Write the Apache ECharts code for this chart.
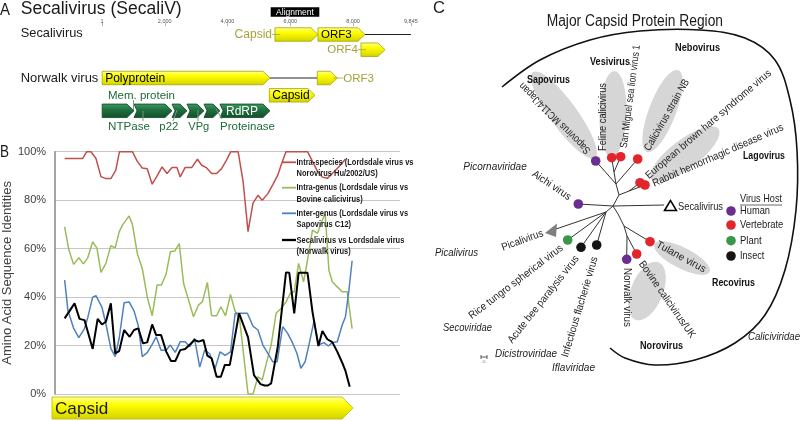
<!DOCTYPE html>
<html><head><meta charset="utf-8">
<script src="https://cdn.jsdelivr.net/npm/echarts@6/dist/echarts.min.js"></script>
<style>html,body{margin:0;padding:0;background:#fff}#c{width:800px;height:421px}</style>
</head><body><div id="c"></div>
<script>
// ===== Panel B data: amino-acid identity (%) along the capsid alignment (x = alignment position) =====
const intraSpecies = [[9.7,97.2],[28,97.2],[32,100],[36.3,100],[41.3,97.2],[46.3,89.7],[51.3,88.9],[56.3,88.9],[61.3,92.4],[65,100],[78,100],[83,96],[88,93.3],[93,93],[98,86.6],[103,90],[108,93.7],[113,91],[118,93.5],[123,93.5],[126.3,89.6],[131.3,93.5],[138,93.5],[143.7,96.9],[148,94.4],[153,93.3],[158,91],[163,91],[168,93],[173,96.5],[177.3,100],[184.7,100],[189.7,87.8],[194.7,67],[199.7,78.8],[204.7,82],[209,80],[214.7,82.7],[219.7,86.4],[224.7,90.3],[228,94.4],[233,100],[254.7,100],[259.7,96],[264.7,92],[269.7,89.5],[274.7,89],[279.7,91],[287.3,94.2],[293,97]];
const intraGenus = [[9.7,69],[14,59.4],[18.7,53.5],[24,56.2],[28.7,53.7],[33,56.2],[38,62.8],[42.3,60.2],[46.3,50.2],[51.3,53.9],[56.3,61.2],[60.7,60.3],[64.7,66.9],[68,69.7],[74.7,73.5],[78,70.1],[83,58],[88,51.8],[93,40.1],[98,32.3],[103,45],[107.3,45],[112,49.4],[116.3,58.7],[120.7,59],[125.3,62.1],[129.7,45.6],[134.7,38.8],[139.7,31.9],[144.7,36.7],[148.7,38.1],[153.7,46],[158,32.3],[163,32.3],[167.3,36],[172,32.3],[177,41.1],[181.3,34.6],[186.3,30.5],[194.7,0],[199.7,0],[204.7,7.1],[209,5.8],[214,14],[218,20.2],[223,33.3],[228,35.3],[233,38],[237.3,41.5],[241.3,42.2],[245.7,53.9],[250.7,46.3],[254.7,55.2],[259.7,67.6],[264.7,66.3],[269.7,71.8],[272.5,74.5],[276.3,51],[279.7,46.3],[284.7,44.2],[289.7,42.2],[294.7,42.2],[299.7,27]];
const interGenus = [[9.7,47],[13,34.5],[18.7,27.2],[24,23.3],[29.7,27],[33,31.5],[38,40],[41.3,40.6],[47.3,35.8],[51.3,29],[56.3,18.8],[60.7,15.4],[64.7,23],[69.7,37.7],[74.7,38],[79.7,34.3],[84,28.2],[88,15.4],[93,17.1],[98,20.5],[102,23.6],[107,18.1],[112,18.1],[116.3,20.2],[121.3,17.2],[126.3,21.6],[131.3,21.6],[136,19.5],[140.7,23],[146,11.1],[151,18.2],[156,16.6],[161.3,10.3],[166.5,17.4],[171.5,15.9],[177,17.4],[181.7,33.3],[186.3,33.3],[194,33.3],[199.7,28],[204.7,26.4],[209.7,20.2],[214.7,16.8],[219.7,13.3],[224,13.3],[229.7,27.8],[234.7,25],[239,21.6],[244,16.8],[248,10.6],[252.3,13.3],[256.3,20.6],[261.3,30.2],[265.7,20.2],[271.3,21.2],[275.7,19.8],[279.7,21.2],[284.7,21.6],[289.7,28.5],[293,31.9],[296.3,42.2],[299.7,55]];
const secaliVsLordsdale = [[9.7,31.2],[19.7,37.4],[24.7,31],[29.7,30.5],[38,18.6],[43,31],[47.3,28.7],[51.3,29.8],[56.3,37.4],[60.7,16.8],[64.7,17.7],[69.7,26.4],[75.3,23.6],[79.7,26.4],[84,27.1],[88.7,20.9],[93,21.3],[98,28.7],[102,24.3],[107,24.3],[112.3,17.4],[117,13.6],[121.3,13.6],[126.3,18.1],[131.3,18.6],[136.3,20.5],[140.7,22.3],[144.7,21.6],[149.7,22.3],[153.7,15.8],[158,14.7],[163,7.1],[167.3,7.1],[171.3,12],[176.3,12],[185.7,33.3],[194.7,23.4],[200.7,7.8],[207.3,4.1],[211.3,3.5],[214.7,3.5],[218,4.4],[224.7,19.5],[233,50.2],[236.3,50],[241.3,33.3],[245.7,50],[254.7,50],[259.7,33.9],[265.7,19.8],[269.7,26],[274.7,22.6],[279.7,21.4],[284.7,17.5],[289.7,12.9],[293,9.5],[297.3,3]];
const seriesLegend = [
  ['Intra-species (Lordsdale virus vs', 'Norovirus Hu/2002/US)'],
  ['Intra-genus (Lordsdale virus vs', 'Bovine calicivirus)'],
  ['Inter-genus (Lordsdale virus vs', 'Sapovirus C12)'],
  ['Secalivirus vs Lordsdale virus', '(Norwalk virus)']
];
const yAxisTitle = 'Amino Acid Sequence Identities';

// ===== Panel A data: genome maps (nucleotide positions) =====
const rulerTicks = [1, 2000, 4000, 6000, 8000, 9845];
const geneNames = ['Capsid','ORF3','ORF4','Polyprotein','ORF3','Capsid','p48','NTPase','p22','VPg','Proteinase','RdRP'];
const geneStart = [5513, 6883, 8254, 5, 6862, 5333, 5, 1020, 2231, 2709, 3250, 3760];
const geneEnd   = [6883, 8381, 9018, 5354, 7500, 6788, 1020, 2231, 2709, 3250, 3760, 5354];
const geneTrack = [0, 0, 1, 2, 2, 3, 4, 4, 4, 4, 4, 4];
const spacerStart = [8381, 5354];
const spacerEnd = [9845, 6862];
const spacerTrack = [0, 2];
const alignmentRegion = [5377, 6926];

// ===== styles / layout =====
const FONT = "'Liberation Sans', Arial, sans-serif";
const COLORS = ['#C0504D', '#9BBB59', '#4F81BD', '#000000'];
const WIDTHS = [1.5, 1.5, 1.5, 2];
const TRACK_Y = [8.5, 23.7, 52, 69.3, 84.8];   // track centre rows of the genome map
const ALIGN_Y = -14;
const GENE_KIND = ['y','y','y','y','y','y','g','g','g','g','g','g'];
const GENE_NOTCH = [0,0,0,0,0,0,0,3,3,3,3,3];
const OLIVE = '#A6A23A';
const GENE_LABEL = [
  {pos:'left', color:OLIVE, size:12}, {pos:'inside', color:'#000', size:11.5}, {pos:'left', color:OLIVE, size:11.5},
  {pos:'inside', color:'#000', size:12}, {pos:'right', color:OLIVE, size:11.5}, {pos:'inside', color:'#000', size:12},
  null, null, null, null, null, {pos:'inside', color:'#fff', size:12}
];
const YELLOW_FILL = {type:'linear',x:0,y:0,x2:0,y2:1,colorStops:[{offset:0,color:'#FFFF9A'},{offset:0.35,color:'#FFFF00'},{offset:1,color:'#D2D200'}]};
const GREEN_FILL = {type:'linear',x:0,y:0,x2:0,y2:1,colorStops:[{offset:0,color:'#3E9A62'},{offset:0.45,color:'#1F6E3E'},{offset:1,color:'#12502A'}]};
const DKGREEN = '#1E6B3A';

const mctx = document.createElement('canvas').getContext('2d');
function fontStr(size, weight, style) { return `${style||'normal'} ${weight||'normal'} ${size}px ${FONT}`; }
function measure(text, font) { mctx.font = font; return mctx.measureText(text).width; }
function txt(text, x0, y0, x1, y1, size, opt) {
  opt = opt || {};
  const font = fontStr(size, opt.weight, opt.style);
  const w = measure(text, font);
  const dx = x1 - x0, dy = y1 - y0, len = Math.hypot(dx, dy);
  const sx = opt.sx || (len > 0 ? len / w : 1);
  return {type:'text', x:x0, y:y0, rotation: -Math.atan2(dy, dx), scaleX: sx, z: opt.z || 50, silent: true,
    style:{text, font, fill: opt.color || '#1a1a1a', align:'left', verticalAlign:'middle'}};
}
function line(x1,y1,x2,y2,color,w,z){ return {type:'line', z:z||20, silent:true, shape:{x1,y1,x2,y2}, style:{stroke:color||'#333', lineWidth:w||1}}; }

const G = [];
// ---------- Panel A annotations ----------
G.push(txt('A', 0, 10, 10, 10, 17));
G.push(txt('Secalivirus (SecaliV)', 20.7, 9.5, 181.7, 9.5, 17.5));
G.push(txt('Secalivirus', 20.7, 33.5, 82.7, 33.5, 13));
G.push(txt('Norwalk virus', 20.7, 78.5, 98.3, 78.5, 13));
G.push(txt('Mem. protein', 108, 95.5, 175, 95.5, 11.5, {color:DKGREEN}));
G.push(txt('NTPase', 108, 126.7, 150, 126.7, 11.5, {color:DKGREEN}));
G.push(txt('p22', 159.3, 126.7, 178.3, 126.7, 11.5, {color:DKGREEN}));
G.push(txt('VPg', 188.3, 126.7, 209.3, 126.7, 11.5, {color:DKGREEN}));
G.push(txt('Proteinase', 220, 126.7, 275, 126.7, 11.5, {color:DKGREEN}));
const PTR = '#6E9A80';
G.push(line(133.5,100,133.5,110,PTR,1,60));
G.push(line(143,111,143,121,PTR,1,60));
G.push(line(177,110,173,121,PTR,1,60));
G.push(line(198,110,198,121,PTR,1,60));
G.push(line(216,109,222,119,PTR,1,60));

// ---------- Panel B annotations ----------
G.push(txt('B', 0, 152, 9, 152, 17));
// capsid bar under the plot
G.push({type:'polygon', z:10, silent:true, shape:{points:[[52,397],[342,397],[353,408],[342,419],[52,419]]},
  style:{fill:YELLOW_FILL, stroke:'#B8B800', lineWidth:0.8}});
G.push(txt('Capsid', 55, 409, 108.3, 409, 17, {z:12}));
// legend
const legTop = [162.3, 187.7, 213.3, 240];
const legSX = 117 / measure(seriesLegend[0][0], fontStr(9.5, 'bold'));
seriesLegend.forEach((lines, i) => {
  const y = legTop[i];
  G.push(line(282, y, 296, y, COLORS[i], WIDTHS[i] + 0.3, 70));
  lines.forEach((t, k) => G.push(txt(t, 296.5, y + k * 11.3, 297.5, y + k * 11.3, 9.5, {weight:'bold', sx:legSX, z:71, color:'#1a1a1a'})));
});

// ---------- Panel C: phylogenetic tree ----------
G.push(txt('C', 433, 8, 445, 8, 17));
G.push(txt('Major Capsid Protein Region', 546.7, 22, 723, 22, 16));
// grey clade ellipses [cx, cy, rx, ry, rotDeg]
const ellipses = [[564,115,53,13.5,-54],[613,114,43,13.5,-92],[662.5,111,44,13.5,69],[685,154,42,14.5,37],[682,258,31,10.5,-27],[647,291,31,16,68]];
ellipses.forEach(e => G.push({type:'circle', z:5, silent:true, x:e[0], y:e[1], rotation:e[4]*Math.PI/180, scaleX:e[2], scaleY:e[3], shape:{cx:0,cy:0,r:1}, style:{fill:'#D6D6D6'}}));
// big boundary curve
G.push({type:'polyline', z:8, silent:true, shape:{smooth:0.35, points:[[502,87],[540,60],[590,40],[640,31],[700,30],[745,38],[775,60],[790,100],[797,150],[796,210],[785,270],[765,315],[735,343],[695,360],[655,365],[625,358],[610,348]]}, style:{stroke:'#111', lineWidth:1.6, fill:null}});
// branches
const R=[613,206], nA=[616,184], nV=[614,172], nB=[619,195], nL=[629,191], nP=[606,212], nN=[618,214], nT=[624,226], nNo=[627,236];
const tips = {sapo:[595.7,161], feline:[611.7,157.7], sml:[620.7,156.7], nb:[637.7,159], ebhs:[640,182.7], rhd:[645,185],
  aichi:[578.3,204], rice:[567.7,240], abpv:[581,247.3], ifv:[596.7,245], tulane:[650,241.7], bovine:[636.7,254], norwalk:[626.7,259.3]};
const edges = [[R,nB],[nB,nA],[nA,tips.sapo],[nA,nV],[nV,tips.feline],[nV,tips.sml],[nA,tips.nb],[nB,nL],[nL,tips.ebhs],[nL,tips.rhd],
  [R,[664,205]],[R,tips.aichi],[R,nP],[nP,[556,229]],[nP,tips.rice],[nP,tips.abpv],[nP,tips.ifv],[R,nN],[nN,nT],[nT,tips.tulane],[nT,nNo],[nNo,tips.bovine],[nNo,tips.norwalk]];
edges.forEach(e => G.push(line(e[0][0],e[0][1],e[1][0],e[1][1],'#333',1,15)));
// host dots
const HOST = {human:'#6B2D90', vert:'#E2242B', plant:'#3C964A', insect:'#151515'};
const dotHost = {sapo:'human', feline:'vert', sml:'vert', nb:'vert', ebhs:'vert', rhd:'vert', aichi:'human', rice:'plant', abpv:'insect', ifv:'insect', tulane:'vert', bovine:'vert', norwalk:'human'};
Object.keys(tips).forEach(k => G.push({type:'circle', z:30, silent:true, shape:{cx:tips[k][0], cy:tips[k][1], r:4.8}, style:{fill:HOST[dotHost[k]]}}));
// secalivirus (open triangle) and picalivirus (grey triangle)
G.push({type:'polygon', z:30, silent:true, shape:{points:[[664.5,210.5],[670.5,200.5],[676.5,210.5]]}, style:{fill:'#fff', stroke:'#000', lineWidth:1.5}});
G.push({type:'polygon', z:30, silent:true, shape:{points:[[545,233],[557,223.5],[556,237]]}, style:{fill:'#7F7F7F'}});
// tip labels [text, x0,y0,x1,y1]
const tipLabels = [
  ['Sapovirus MC114/Japan', 589,152, 521,84], ['Feline calicivirus', 603,151, 603,83], ['San Miguel sea lion virus 1', 624,148, 637,45],
  ['Calicivirus strain NB', 647,150, 687,80], ['European brown hare syndrome virus', 647,177, 770,72], ['Rabbit hemorrhagic disease virus', 653,184, 783,127],
  ['Aichi virus', 533,173, 570,198], ['Picalivirus', 502,248, 543,233], ['Rice tungro spherical virus', 470,317, 562,247],
  ['Acute bee paralysis virus', 510,342, 577,257], ['Infectious flacherie virus', 565,357, 595,257], ['Tulane virus', 657,244, 705,270],
  ['Bovine calicivirus/UK', 641,262, 693,337], ['Norwalk virus', 627,268, 627,327], ['Secalivirus', 678,207, 723,207]
];
tipLabels.forEach(l => G.push(txt(l[0], l[1], l[2], l[3], l[4], 10.5, {color:'#222'})));
// genus (bold) and family (italic) labels [text, x0, x1, y]
const genusLabels = [['Sapovirus',527,570,80],['Vesivirus',590,630,62],['Nebovirus',675,720,48],['Lagovirus',743,785,156],['Recovirus',712,755,283],['Norovirus',640,683,346]];
genusLabels.forEach(l => G.push(txt(l[0], l[1], l[3], l[2], l[3], 10.5, {weight:'bold', color:'#111'})));
const familyLabels = [['Picornaviridae',463.3,526.7,167],['Picalivirus',435,478,253],['Secoviridae',443,492,328],['Dicistroviridae',495,557,354],['Iflaviridae',552,595,368],['Caliciviridae',748,800,337]];
familyLabels.forEach(l => G.push(txt(l[0], l[1], l[3], l[2], l[3], 10.5, {style:'italic', color:'#222'})));
// scale bar
G.push(line(481,357,487,357,'#333',0.8,20)); G.push(line(481,355,481,359,'#333',0.8,20)); G.push(line(487,355,487,359,'#333',0.8,20));
G.push(txt('0.5', 482.5, 362, 485.5, 362, 3.5, {color:'#555'}));
// host legend
G.push(txt('Virus Host', 740, 199, 782, 199, 11, {color:'#222'}));
G.push(line(740, 205, 782, 205, '#444', 0.8, 20));
const hostLegend = [['Human','human',211,770],['Vertebrate','vert',225,783.3],['Plant','plant',240.7,761.7],['Insect','insect',256,764.3]];
hostLegend.forEach(h => {
  G.push({type:'circle', z:30, silent:true, shape:{cx:731, cy:h[2], r:4.8}, style:{fill:HOST[h[1]]}});
  G.push(txt(h[0], 740, h[2], h[3], h[2], 11, {color:'#222'}));
});

// ---------- custom series renderers (panel A) ----------
function renderGene(params, api) {
  const i = params.dataIndex;
  const tv = TRACK_Y[api.value(2)];
  const a = api.coord([api.value(0), tv]), b = api.coord([api.value(1), tv]);
  const x0 = a[0], x1 = b[0], y = a[1], h = 13.5;
  const tip = Math.min(7, (x1 - x0) * 0.5);
  const notch = GENE_NOTCH[i];
  const pts = [[x0, y - h/2], [x1 - tip, y - h/2], [x1, y], [x1 - tip, y + h/2], [x0, y + h/2]];
  if (notch) pts.push([x0 + notch, y]);
  const green = GENE_KIND[i] === 'g';
  const children = [{type:'polygon', shape:{points:pts}, style:{fill: green ? GREEN_FILL : YELLOW_FILL, stroke: green ? '#0E4424' : '#A5A500', lineWidth:0.8}}];
  const lab = GENE_LABEL[i];
  if (lab) {
    const font = fontStr(lab.size);
    if (lab.pos === 'inside') children.push({type:'text', x: x0 + 3 + notch, y: y + 0.5, style:{text: geneNames[i], font, fill: lab.color, align:'left', verticalAlign:'middle'}});
    else if (lab.pos === 'left') {
      children.push({type:'text', x: x0 - 3, y: y + 0.5, style:{text: geneNames[i], font, fill: lab.color, align:'right', verticalAlign:'middle'}});
      children.push({type:'line', shape:{x1: x0 - 3, y1: y, x2: x0 + 5, y2: y}, style:{stroke: lab.color, lineWidth: 0.8}});
    } else {
      children.push({type:'text', x: x1 + 6, y: y + 0.5, style:{text: geneNames[i], font, fill: lab.color, align:'left', verticalAlign:'middle'}});
      children.push({type:'line', shape:{x1: x1 - 4, y1: y, x2: x1 + 6, y2: y}, style:{stroke: lab.color, lineWidth: 0.8}});
    }
  }
  return {type:'group', children};
}
function renderSpacer(params, api) {
  const tv = TRACK_Y[api.value(2)];
  const a = api.coord([api.value(0), tv]), b = api.coord([api.value(1), tv]);
  return {type:'line', shape:{x1:a[0], y1:a[1], x2:b[0], y2:b[1]}, style:{stroke:'#222', lineWidth:1}};
}
function renderAlign(params, api) {
  const a = api.coord([api.value(0), ALIGN_Y]), b = api.coord([api.value(1), ALIGN_Y]);
  return {type:'group', children:[
    {type:'rect', shape:{x:a[0], y:a[1] - 4.8, width:b[0] - a[0], height:9.6}, style:{fill:'#000'}},
    {type:'text', x:(a[0] + b[0]) / 2, y:a[1] + 0.3, style:{text:'Alignment', font: fontStr(8.5), fill:'#fff', align:'center', verticalAlign:'middle'}}
  ]};
}

const lineData = [intraSpecies, intraGenus, interGenus, secaliVsLordsdale];
const option = {
  animation: false,
  grid: [{left:52, top:151.7, width:348, height:242.3}, {left:102, top:26, width:308.9, height:100}],
  xAxis: [
    {gridIndex:0, type:'value', min:0, max:348, show:false},
    {gridIndex:1, type:'value', min:0, max:9845, position:'top', axisLine:{show:false}, splitLine:{show:false},
      axisTick:{show:true, length:3, customValues:rulerTicks, lineStyle:{color:'#777', width:0.6}},
      axisLabel:{customValues:rulerTicks, formatter: v => Number(v).toLocaleString('en-US'), fontSize:5.5, color:'#555', margin:2, fontFamily:FONT}}
  ],
  yAxis: [
    {gridIndex:0, type:'value', min:0, max:100, interval:20,
      axisLine:{show:true, lineStyle:{color:'#878787', width:1.5}}, axisTick:{show:false},
      splitLine:{lineStyle:{color:'#C6C6C6', width:1}},
      axisLabel:{formatter:'{value}%', fontSize:11, color:'#404040', margin:9, fontFamily:FONT},
      name: yAxisTitle, nameLocation:'middle', nameGap:32, nameTextStyle:{fontSize:13, color:'#404040', fontFamily:FONT}},
    {gridIndex:1, type:'value', min:0, max:100, inverse:true, show:false}
  ],
  series: [
    ...lineData.map((d, i) => ({type:'line', xAxisIndex:0, yAxisIndex:0, data:d, symbol:'none', z:2 + i,
      lineStyle:{color:COLORS[i], width:WIDTHS[i]}, itemStyle:{color:COLORS[i]}, silent:true})),
    {type:'custom', xAxisIndex:1, yAxisIndex:1, renderItem:renderSpacer, silent:true, z:3,
      data: spacerStart.map((s, i) => [s, spacerEnd[i], spacerTrack[i]]), encode:{x:[0,1], y:2}},
    {type:'custom', xAxisIndex:1, yAxisIndex:1, renderItem:renderGene, silent:true, z:4,
      data: geneStart.map((s, i) => [s, geneEnd[i], geneTrack[i]]), encode:{x:[0,1], y:2}},
    {type:'custom', xAxisIndex:1, yAxisIndex:1, renderItem:renderAlign, silent:true, z:4,
      data: [[alignmentRegion[0], alignmentRegion[1], 0]], encode:{x:[0,1], y:2}}
  ],
  graphic: G
};
const chart = echarts.init(document.getElementById('c'), null, {renderer:'canvas'});
chart.setOption(option);
</script>
</body></html>
